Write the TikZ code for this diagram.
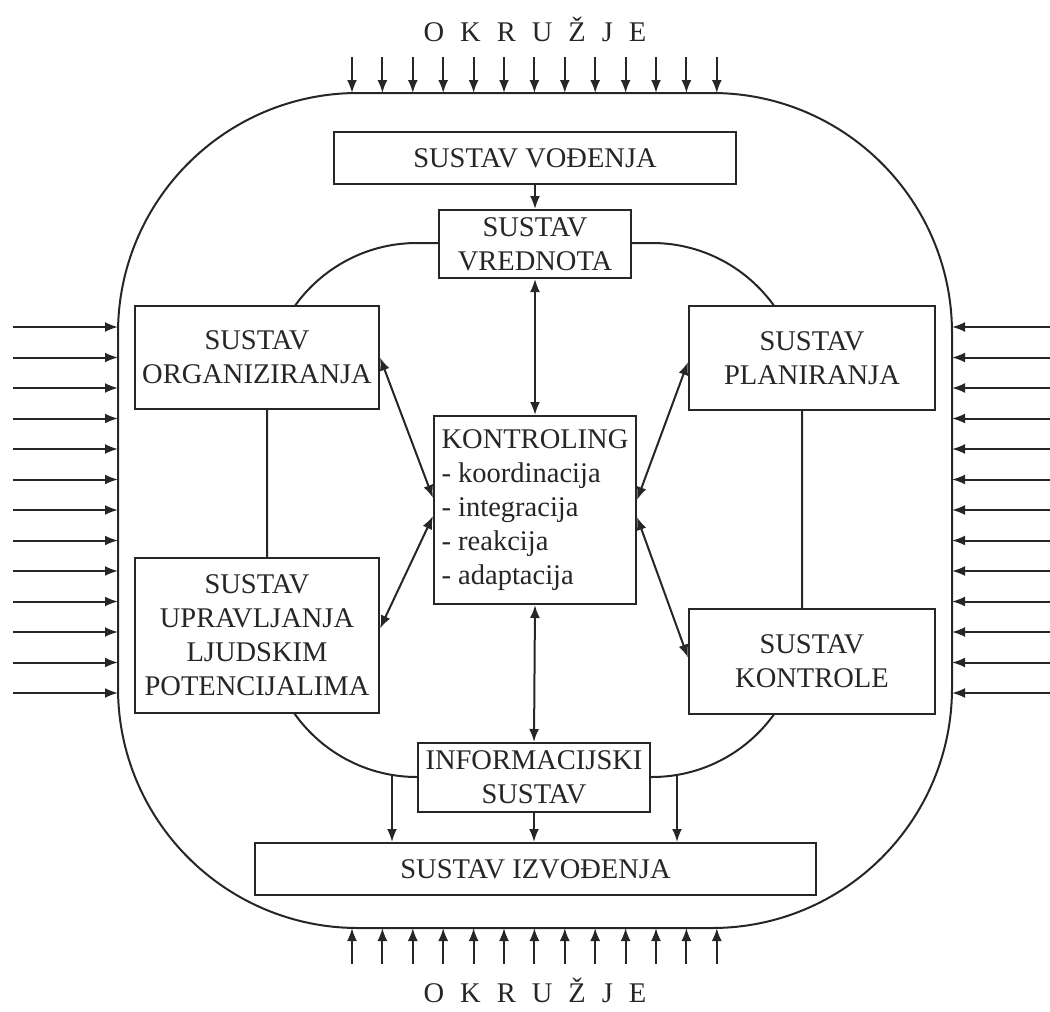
\documentclass[tikz,border=0pt]{standalone}
\usepackage{fontspec}
\setmainfont{Liberation Serif}
\usetikzlibrary{arrows.meta}
\newcommand\okruzjetxt{O\hspace{16pt}K\hspace{16pt}R\hspace{16pt}U\hspace{16pt}Ž\hspace{16pt}J\hspace{16pt}E}
\begin{document}
\begin{tikzpicture}[x=1pt,y=-1pt,
  ln/.style={line width=2pt, draw=black!85},
  arr/.style={ln, -{Latex[length=13pt,width=10pt]}},
  darr/.style={ln, {Latex[length=13pt,width=10pt]}-{Latex[length=13pt,width=10pt]}},
  sbox/.style={draw=black!85, line width=2pt, fill=white, align=center, inner sep=0pt,
    font=\fontsize{28.5}{34}\selectfont, text=black!85},
  lbl/.style={font=\fontsize{28.5}{34}\selectfont, inner sep=0pt, text=black!85}]
\useasboundingbox (0,0) rectangle (1050,1012);

% outer boundary and inner loop
\draw[ln, rounded corners=240pt] (118,93) rectangle (952,928);
\draw[ln, rounded corners=150pt] (267,243) rectangle (802,777);

% environment labels
\node[lbl] (envtop) at (535,29) {\okruzjetxt};
\node[lbl] (envbot) at (535,990) {\okruzjetxt};

% environment arrows
\foreach \i in {0,...,12}{
  \pgfmathsetmacro\xx{352+30.4*\i}
  \pgfmathsetmacro\yy{327+30.5*\i}
  \coordinate (t\i s) at (\xx,57);  \coordinate (t\i e) at (\xx,93);
  \coordinate (b\i s) at (\xx,964); \coordinate (b\i e) at (\xx,928);
  \coordinate (l\i s) at (13,\yy);  \coordinate (l\i e) at (118,\yy);
  \coordinate (r\i s) at (1052,\yy); \coordinate (r\i e) at (952,\yy);
  \draw[arr] (t\i s) -- (t\i e);
  \draw[arr] (b\i s) -- (b\i e);
  \draw[arr] (l\i s) -- (l\i e);
  \draw[arr] (r\i s) -- (r\i e);
}

% boxes
\node[sbox, minimum width=402pt, minimum height=52pt] (vod) at (535,158) {SUSTAV VOĐENJA};
\node[sbox, minimum width=192pt, minimum height=68pt] (vred) at (535,244) {SUSTAV\\VREDNOTA};
\node[sbox, minimum width=244pt, minimum height=103pt] (org) at (257,357.5) {SUSTAV\\ORGANIZIRANJA};
\node[sbox, minimum width=244pt, minimum height=155pt] (uljp) at (257,635.5) {SUSTAV\\UPRAVLJANJA\\LJUDSKIM\\POTENCIJALIMA};
\node[sbox, minimum width=246pt, minimum height=104pt] (plan) at (812,358) {SUSTAV\\PLANIRANJA};
\node[sbox, minimum width=246pt, minimum height=105pt] (kontr) at (812,661.5) {SUSTAV\\KONTROLE};
\node[sbox, align=left, minimum width=202pt, minimum height=188pt] (kling) at (535,510)
  {KONTROLING\\- koordinacija\\- integracija\\- reakcija\\- adaptacija};
\node[sbox, minimum width=232pt, minimum height=69pt] (info) at (534,777.5) {INFORMACIJSKI\\SUSTAV};
\node[sbox, minimum width=561pt, minimum height=52pt] (izv) at (535.5,869) {SUSTAV IZVOĐENJA};

% connectors
\draw[arr] (vod.south) -- (vred.north);
\draw[darr] (vred.south) -- (kling.north);
\draw[darr] (kling.south) -- (info.north);
\draw[arr] (info.south) -- (izv.north -| info.south);
\coordinate (lp) at (392,776);
\coordinate (rp) at (677,776);
\draw[arr] (lp) -- (lp |- izv.north);
\draw[arr] (rp) -- (rp |- izv.north);

\draw[darr] (org.east) -- ([yshift=12pt]kling.west);
\draw[darr] ([yshift=7pt]uljp.east) -- ([yshift=-6pt]kling.west);
\draw[darr] ([yshift=-4pt]plan.west) -- ([yshift=10pt]kling.east);
\draw[darr] ([yshift=4pt]kontr.west) -- ([yshift=-7pt]kling.east);
\end{tikzpicture}
\end{document}
